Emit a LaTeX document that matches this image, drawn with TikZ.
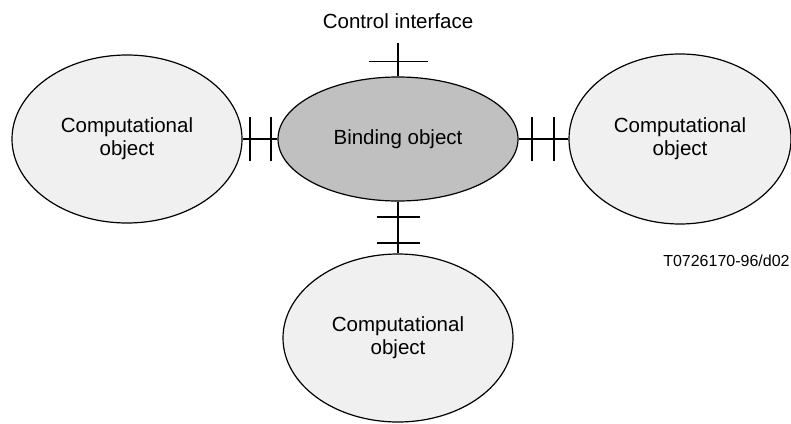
\documentclass[tikz,border=0pt]{standalone}
\usepackage{fontspec}
\setmainfont{Liberation Sans}
\usetikzlibrary{shapes.geometric}
\definecolor{bindgray}{HTML}{C0C0C0}
\definecolor{compgray}{HTML}{F0F0F0}

\begin{document}
\begin{tikzpicture}[x=0.5pt,y=-0.5pt,
    comp/.style={ellipse,draw,line width=0.6pt,fill=compgray,inner sep=0pt,align=center,font=\fontsize{10.25}{11.5}\selectfont},
    bind/.style={comp,fill=bindgray},
    iface/.style={line width=1pt},
    ctlline/.style={line width=0.7pt}]

            \useasboundingbox (0,0) rectangle (791,423);

            \node[bind, minimum width=120pt, minimum height=62pt] (bind) at (398,139) {Binding object};
            \node[comp, minimum width=115pt, minimum height=84pt] (left) at (127,139) {Computational\\object};
            \node[comp, minimum width=111pt, minimum height=85pt] (right) at (680,139) {Computational\\object};
            \node[comp, minimum width=115pt, minimum height=84pt] (bot) at (398,338) {Computational\\object};

            \node[font=\fontsize{10.25}{11.5}\selectfont] (ctltext) at (398,21) {Control interface};
            \node[anchor=east, inner sep=0.5pt, font=\fontsize{8}{9.6}\selectfont] (code) at (791,261) {T0726170-96/d02};
            \coordinate (ctl) at (398,43);

            % interfaces
            \draw[iface] (left.east) -- (bind.west) coordinate[pos=0.22] (l1) coordinate[pos=0.83] (l2);
            \draw[iface] (bind.east) -- (right.west) coordinate[pos=0.27] (r1) coordinate[pos=0.71] (r2);
            \draw[iface] (bind.south) -- (bot.north) coordinate[pos=0.30] (b1) coordinate[pos=0.79] (b2);
            \draw[ctlline] (ctl) -- (bind.north) coordinate[pos=0.56] (c1);

            \foreach \t in {l1,l2,r1,r2}
                \draw[iface] ([yshift=-11pt]\t) -- ([yshift=11pt]\t);
            \foreach \t in {b1,b2}
                \draw[iface] ([xshift=-10.75pt]\t) -- ([xshift=10.75pt]\t);
            \draw[ctlline] ([xshift=-14.75pt]c1) -- ([xshift=14.75pt]c1);

            ;
        \end{tikzpicture}
\end{document}
